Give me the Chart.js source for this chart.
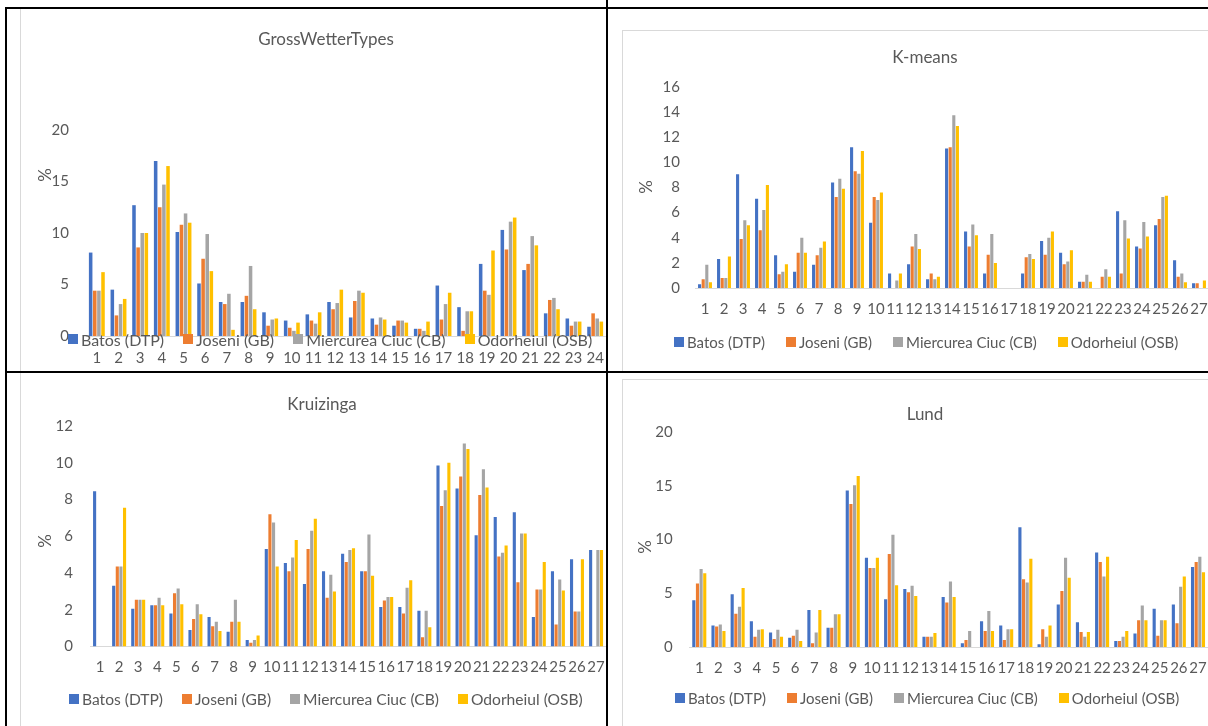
<!DOCTYPE html>
<html>
<head>
<meta charset="utf-8">
<script src="https://cdn.jsdelivr.net/npm/chart.js@4.4.1/dist/chart.umd.min.js"></script>
<style>
  body { margin: 0; width: 1208px; height: 726px; overflow: hidden; background: #fff; position: relative; font-family: Lato, "Open Sans", sans-serif; }
  .box { position: absolute; overflow: hidden; }
  .box canvas { position: absolute; left: 0; top: 0; }
  .line { position: absolute; background: #000; z-index: 5; }
  .frame { position: absolute; background: #d9d9d9; z-index: 4; }
  .legend { position: absolute; height: 20px; display: flex; align-items: center; color: #595959; white-space: nowrap; z-index: 3; }
  .legend .item { display: flex; align-items: center; }
  .legend .sw { display: inline-block; width: 10px; height: 10px; margin-right: 3px; }
</style>
</head>
<body>

<div class="box" style="left:20px;top:9px;width:586px;height:362px"><canvas id="gwt" width="612" height="362"></canvas></div>
<div class="box" style="left:620px;top:30px;width:588px;height:342px"><canvas id="kmeans" width="610" height="342"></canvas></div>
<div class="box" style="left:20px;top:374px;width:586px;height:352px"><canvas id="kruiz" width="604" height="352"></canvas></div>
<div class="box" style="left:620px;top:380px;width:588px;height:346px"><canvas id="lund" width="610" height="346"></canvas></div>

<div class="legend" id="leg1" style="left:68px;top:329px;font-size:16px"></div>
<div class="legend" id="leg2" style="left:674px;top:332px;font-size:15px"></div>
<div class="legend" id="leg3" style="left:69px;top:689px;font-size:15.6px"></div>
<div class="legend" id="leg4" style="left:675px;top:688px;font-size:15px"></div>

<!-- light chart frames -->
<div class="frame" style="left:20px;top:9px;width:1px;height:362px"></div>
<div class="frame" style="left:622px;top:30px;width:1px;height:342px"></div>
<div class="frame" style="left:622px;top:30px;width:586px;height:1px"></div>
<div class="frame" style="left:20px;top:373px;width:1px;height:353px"></div>
<div class="frame" style="left:622px;top:379px;width:1px;height:347px"></div>
<div class="frame" style="left:622px;top:379px;width:586px;height:1px"></div>

<!-- table borders -->
<div class="line" style="left:5px;top:7px;width:1203px;height:2px"></div>
<div class="line" style="left:5px;top:7px;width:2px;height:719px"></div>
<div class="line" style="left:606px;top:0px;width:2px;height:726px"></div>
<div class="line" style="left:5px;top:371px;width:1203px;height:2px"></div>

<script>
const seriesNames = ['Batos (DTP)', 'Joseni (GB)', 'Miercurea Ciuc (CB)', 'Odorheiul (OSB)'];
const seriesColors = ['#4472C4', '#ED7D31', '#A5A5A5', '#FFC000'];
const yAxisTitle = '%';

// GrossWetterTypes
const gwtLabels = ['1','2','3','4','5','6','7','8','9','10','11','12','13','14','15','16','17','18','19','20','21','22','23','24'];
const gwtTicks = [0, 5, 10, 15, 20];
const gwtBatos     = [8.1, 4.5, 12.7, 17.0, 10.1, 5.1, 3.3, 3.3, 2.3, 1.5, 2.1, 3.3, 1.8, 1.7, 1.0, 0.7, 4.9, 2.8, 7.0, 10.3, 6.4, 2.2, 1.7, 0.9];
const gwtJoseni    = [4.4, 2.0, 8.6, 12.5, 10.8, 7.5, 3.1, 3.9, 1.0, 0.8, 1.5, 2.6, 3.4, 1.1, 1.5, 0.7, 1.6, 0.5, 4.4, 8.4, 7.0, 3.5, 1.0, 2.2];
const gwtMiercurea = [4.4, 3.1, 10.0, 14.7, 11.9, 9.9, 4.1, 6.8, 1.6, 0.5, 1.2, 3.2, 4.4, 1.8, 1.5, 0.5, 3.1, 2.4, 4.0, 11.1, 9.7, 3.7, 1.4, 1.7];
const gwtOdorheiul = [6.2, 3.6, 10.0, 16.5, 11.0, 6.3, 0.6, 2.6, 1.7, 1.3, 2.3, 4.5, 4.2, 1.6, 1.3, 1.4, 4.2, 2.4, 8.3, 11.5, 8.8, 2.6, 1.4, 1.4];

// K-means, Kruizinga, Lund share 27 classes
const classLabels = ['1','2','3','4','5','6','7','8','9','10','11','12','13','14','15','16','17','18','19','20','21','22','23','24','25','26','27'];

const kmTicks = [0, 2, 4, 6, 8, 10, 12, 14, 16];
const kmBatos     = [0.3, 2.3, 9.05, 7.1, 2.6, 1.3, 1.85, 8.4, 11.2, 5.2, 1.15, 1.9, 0.7, 11.1, 4.5, 1.15, 0, 1.15, 3.75, 2.8, 0.5, 0, 6.1, 3.3, 5.0, 2.2, 0.37];
const kmJoseni    = [0.7, 0.8, 3.9, 4.6, 1.1, 2.8, 2.6, 7.25, 9.3, 7.25, 0, 3.3, 1.15, 11.2, 3.3, 2.65, 0, 2.45, 2.65, 1.9, 0.5, 0.9, 1.15, 3.15, 5.5, 0.9, 0.37];
const kmMiercurea = [1.85, 0.8, 5.4, 6.2, 1.3, 4.0, 3.2, 8.7, 9.1, 7.0, 0.6, 4.3, 0.7, 13.75, 5.05, 4.3, 0, 2.7, 4.0, 2.1, 1.05, 1.5, 5.4, 5.25, 7.25, 1.15, 0];
const kmOdorheiul = [0.45, 2.5, 5.0, 8.2, 1.9, 2.8, 3.7, 7.9, 10.9, 7.6, 1.15, 3.1, 0.9, 12.9, 4.2, 2.0, 0, 2.3, 4.5, 3.0, 0.5, 0.9, 3.95, 4.1, 7.35, 0.45, 0.6];

const krTicks = [0, 2, 4, 6, 8, 10, 12];
const krBatos     = [8.45, 3.3, 2.05, 2.25, 1.8, 0.9, 1.6, 0.8, 0.35, 5.3, 4.55, 3.4, 4.1, 5.05, 4.1, 2.15, 2.15, 1.95, 9.85, 8.6, 6.05, 7.05, 7.3, 1.6, 4.1, 4.75, 5.25];
const krJoseni    = [0, 4.35, 2.55, 2.25, 2.9, 1.5, 1.1, 1.35, 0.2, 7.2, 4.1, 5.3, 2.65, 4.6, 4.1, 2.5, 1.8, 0.5, 7.65, 9.25, 8.25, 4.9, 3.5, 3.1, 1.2, 1.9, 0];
const krMiercurea = [0, 4.35, 2.55, 2.65, 3.15, 2.3, 1.35, 2.55, 0.35, 6.75, 4.85, 6.3, 3.9, 5.25, 6.1, 2.7, 3.2, 1.95, 8.5, 11.05, 9.65, 5.1, 6.15, 3.1, 3.65, 1.9, 5.25];
const krOdorheiul = [0, 7.55, 2.55, 2.25, 2.3, 1.75, 0.85, 1.35, 0.6, 4.35, 5.8, 6.95, 3.0, 5.35, 3.85, 2.7, 3.6, 1.05, 10.0, 10.75, 8.65, 5.5, 6.15, 4.6, 3.05, 4.75, 5.25];

const luTicks = [0, 5, 10, 15, 20];
const luBatos     = [4.35, 2.0, 4.9, 2.4, 1.35, 0.85, 3.45, 1.8, 14.55, 8.3, 4.45, 5.4, 0.95, 4.65, 0.35, 2.4, 2.0, 11.15, 0.25, 3.95, 2.3, 8.8, 0.55, 1.25, 3.55, 3.95, 7.45];
const luJoseni    = [5.9, 1.9, 3.1, 0.95, 0.75, 1.05, 0.35, 1.8, 13.3, 7.35, 8.65, 5.1, 0.95, 4.15, 0.65, 1.5, 0.65, 6.3, 1.65, 5.2, 1.4, 7.9, 0.55, 2.5, 1.05, 2.2, 7.9];
const luMiercurea = [7.25, 2.1, 3.75, 1.6, 1.6, 1.6, 1.35, 3.05, 15.05, 7.35, 10.45, 5.7, 0.95, 6.1, 1.5, 3.35, 1.65, 6.0, 0.95, 8.3, 0.95, 6.55, 0.95, 3.85, 2.5, 5.6, 8.4];
const luOdorheiul = [6.85, 1.5, 5.5, 1.65, 0.95, 0.55, 3.45, 3.05, 15.9, 8.3, 5.75, 4.75, 1.3, 4.65, 0, 1.5, 1.65, 8.2, 2.0, 6.45, 1.4, 8.4, 1.5, 2.5, 2.5, 6.55, 6.95];

Chart.defaults.font.family = "Lato, 'Open Sans', sans-serif";
Chart.defaults.color = '#595959';

// chart title and rotated axis title, drawn where the Excel layout had them
const panelText = {
  id: 'panelText',
  afterDraw: function (chart, args, opts) {
    var ctx = chart.ctx;
    ctx.save();
    ctx.fillStyle = '#595959';
    ctx.textAlign = 'center';
    ctx.textBaseline = 'middle';
    ctx.font = "17px Lato, 'Open Sans', sans-serif";
    ctx.fillText(opts.title, opts.titleX, opts.titleY);
    ctx.translate(opts.unitX, opts.unitY);
    ctx.rotate(-Math.PI / 2);
    ctx.fillText(yAxisTitle, 0, 0);
    ctx.restore();
  }
};

function drawPanel(id, title, labels, values, yTicks, lay) {
  new Chart(document.getElementById(id), {
    type: 'bar',
    data: {
      labels: labels,
      datasets: values.map(function (v, i) {
        return { label: seriesNames[i], data: v, backgroundColor: seriesColors[i],
                 categoryPercentage: 0.76, barPercentage: 0.86 };
      })
    },
    plugins: [panelText],
    options: {
      responsive: false,
      animation: false,
      layout: { padding: { left: 0, top: lay.top, right: lay.padRight, bottom: 0 } },
      plugins: {
        legend: { display: false },
        tooltip: { enabled: false },
        title: { display: false },
        panelText: { title: title, titleX: lay.titleX, titleY: lay.titleY, unitX: lay.unitX, unitY: lay.unitY }
      },
      scales: {
        x: {
          grid: { display: false, drawTicks: false },
          border: { color: '#d9d9d9' },
          ticks: { font: { size: 15 }, padding: lay.xPad, autoSkip: false, maxRotation: 0 },
          afterFit: function (s) { s.height = lay.xHeight; }
        },
        y: {
          min: yTicks[0],
          max: yTicks[yTicks.length - 1],
          grid: { display: false, drawTicks: false },
          border: { display: false },
          ticks: { stepSize: yTicks[1] - yTicks[0], font: { size: 15 }, padding: lay.yPad },
          afterFit: function (s) { s.width = lay.yWidth; }
        }
      }
    }
  });
}

function drawLegend(id, gap) {
  var el = document.getElementById(id);
  seriesNames.forEach(function (name, i) {
    var item = document.createElement('div');
    item.className = 'item';
    if (i < seriesNames.length - 1) item.style.marginRight = gap + 'px';
    var sw = document.createElement('span');
    sw.className = 'sw';
    sw.style.background = seriesColors[i];
    item.appendChild(sw);
    item.appendChild(document.createTextNode(name));
    el.appendChild(item);
  });
}

drawPanel('gwt', 'GrossWetterTypes', gwtLabels, [gwtBatos, gwtJoseni, gwtMiercurea, gwtOdorheiul], gwtTicks,
  { top: 121, padRight: 26, xHeight: 35, xPad: 13, yWidth: 66, yPad: 17,
    titleX: 306, titleY: 31, unitX: 26, unitY: 166 });
drawPanel('kmeans', 'K-means', classLabels, [kmBatos, kmJoseni, kmMiercurea, kmOdorheiul], kmTicks,
  { top: 57, padRight: 21.5, xHeight: 84, xPad: 12, yWidth: 75.5, yPad: 15.5,
    titleX: 305, titleY: 28, unitX: 26.5, unitY: 157 });
drawPanel('kruiz', 'Kruizinga', classLabels, [krBatos, krJoseni, krMiercurea, krOdorheiul], krTicks,
  { top: 52, padRight: 18.4, xHeight: 79.5, xPad: 11.5, yWidth: 70.5, yPad: 17.5,
    titleX: 302, titleY: 31, unitX: 25.5, unitY: 167 });
drawPanel('lund', 'Lund', classLabels, [luBatos, luJoseni, luMiercurea, luOdorheiul], luTicks,
  { top: 52, padRight: 22.4, xHeight: 79, xPad: 12, yWidth: 69.7, yPad: 17,
    titleX: 305, titleY: 35, unitX: 25.5, unitY: 167 });

drawLegend('leg1', 19);
drawLegend('leg2', 21);
drawLegend('leg3', 19);
drawLegend('leg4', 21);
</script>
</body>
</html>
